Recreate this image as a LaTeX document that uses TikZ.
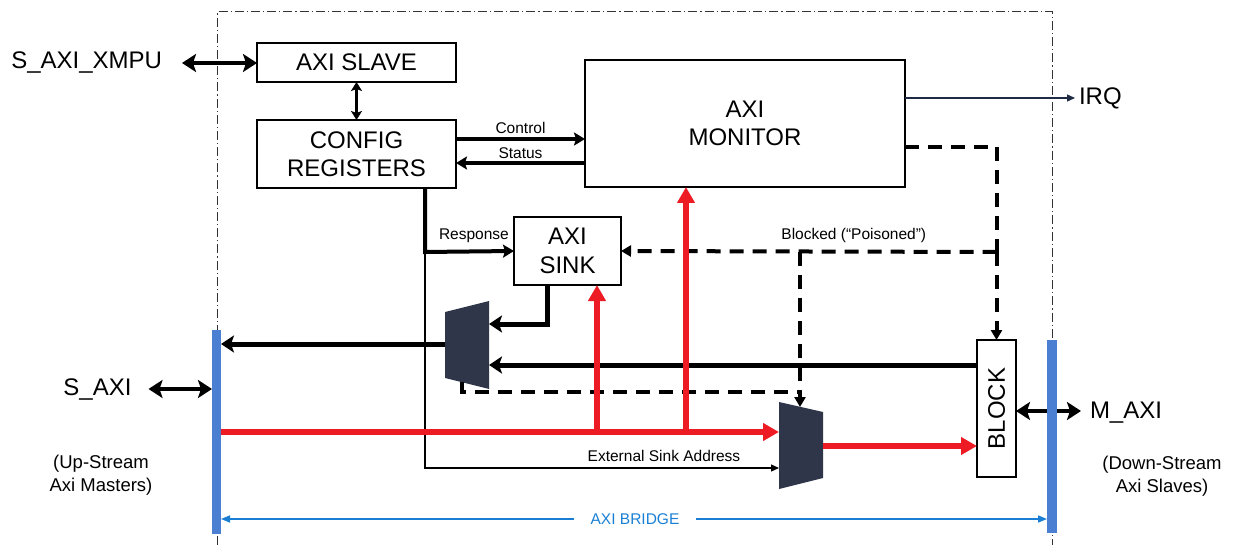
\documentclass[tikz,border=0pt]{standalone}
\usepackage{fontspec}
\setmainfont{Liberation Sans}
\usetikzlibrary{arrows.meta,calc}
\definecolor{axred}{HTML}{ED1C24}
\definecolor{muxc}{HTML}{30364A}
\definecolor{barblue}{HTML}{4A7FD2}
\definecolor{brblue}{HTML}{1A7FD4}
\definecolor{irqc}{HTML}{1F2A44}
\tikzset{
  boxnode/.style={draw, line width=1.3pt, inner sep=0pt, outer sep=0pt, align=center,
    font=\fontsize{24}{28.5}\selectfont},
  biglbl/.style={inner sep=0pt, outer sep=0pt, font=\fontsize{24}{28}\selectfont},
  midlbl/.style={inner sep=0pt, outer sep=0pt, align=center, font=\fontsize{18.5}{23}\selectfont},
  smalllbl/.style={inner sep=0pt, outer sep=0pt, font=\fontsize{15.5}{18}\selectfont},
  barnode/.style={fill=barblue, inner sep=0pt, outer sep=0pt},
  thkarrow/.style={line width=5pt, -{Stealth[length=13pt,width=17pt,inset=3pt]}},
  medarrow/.style={line width=4pt, -{Stealth[length=11pt,width=13pt,inset=2pt]}},
  dblarrow/.style={line width=4.5pt, {Stealth[length=14pt,width=18pt,inset=3pt]}-{Stealth[length=14pt,width=18pt,inset=3pt]}},
  smalldbl/.style={line width=3pt, {Stealth[length=9pt,width=11pt,inset=2pt]}-{Stealth[length=9pt,width=11pt,inset=2pt]}},
  redarrow/.style={axred, line width=5.5pt, -{Triangle[length=16pt,width=17pt]}},
  redline/.style={axred, line width=5.5pt},
  dshline/.style={line width=4pt, dash pattern=on 14pt off 9pt},
  dsharrow/.style={line width=4pt, dash pattern=on 14pt off 9pt, -{Triangle[length=10pt,width=11pt]}},
  thinarrow/.style={line width=1.2pt, -{Triangle[length=8pt,width=7pt]}},
  framestyle/.style={line width=1pt, black!80, dash pattern=on 9pt off 3pt on 1.2pt off 3pt},
  brarrow/.style={brblue, line width=1.5pt, -{Triangle[length=9pt,width=7pt]}}
}
\begin{document}
\begin{tikzpicture}[x=1pt,y=-1pt]
\useasboundingbox (0,0) rectangle (1239,545);

% frame
\draw[framestyle] (217,545) -- (217,12) -- (1052,12) -- (1052,545);

% boxes
\node[boxnode, minimum width=199pt, minimum height=39pt] (slave) at (356.5,62.5) {AXI SLAVE};
\node[boxnode, minimum width=199pt, minimum height=68pt] (config) at (356.5,154) {CONFIG\\REGISTERS};
\node[boxnode, minimum width=320pt, minimum height=127pt] (monitor) at (745,123.5) {AXI\\MONITOR};
\node[boxnode, minimum width=107pt, minimum height=68pt] (sink) at (567.5,251) {AXI\\SINK};
\node[boxnode, minimum width=39pt, minimum height=137pt] (block) at (996.5,408.5) {};
\node[biglbl, rotate=90] (blocktext) at (block.center) {BLOCK};

% bars
\node[barnode, minimum width=9pt, minimum height=204pt] (lbar) at (216.5,432) {};
\node[barnode, minimum width=10pt, minimum height=193pt] (rbar) at (1052,436.5) {};

% external labels
\node[biglbl, anchor=east] (xmpu) at (162,63) {S\_AXI\_XMPU};
\node[biglbl, anchor=west] (irq) at (1079,98) {IRQ};
\node[biglbl] (saxi) at (97.5,390) {S\_AXI};
\node[biglbl] (maxi) at (1126,413) {M\_AXI};
\node[midlbl] (up) at (101,475) {(Up-Stream\\Axi Masters)};
\node[midlbl] (down) at (1162,476) {(Down-Stream\\Axi Slaves)};

% muxes
\fill[muxc] (445,312) -- (489,301) -- (489,389) -- (445,378) -- cycle;
\fill[muxc] (779,402) -- (823,412) -- (823,478) -- (779,489) -- cycle;
\coordinate (m1out) at (445,344);
\coordinate (m1inA) at (489,324);
\coordinate (m1inB) at (489,365);
\coordinate (m1sel) at (462,382);
\coordinate (m2inA) at (779,432);
\coordinate (m2inB) at (779,468);
\coordinate (m2sel) at (800,407);
\coordinate (m2out) at (823,446);

% junctions
\coordinate (rj) at (425,252);
\coordinate (rv1) at (597,432);
\coordinate (rv2) at (686,432);
\coordinate (bj) at (996.5,252);
\coordinate (dj) at (800,252);
\coordinate (dj2) at (800,392);

% slave / config
\draw[dblarrow, shorten <=20pt] (xmpu.east) -- (xmpu.east -| slave.west);
\draw[smalldbl] (slave.south) -- (config.north);

% control / status
\draw[medarrow] (config.east |- 0,139) -- (monitor.west |- 0,139)
  node[smalllbl, midway, above=5pt] (ctl) {Control};
\draw[medarrow] (monitor.west |- 0,163) -- (config.east |- 0,163)
  node[smalllbl, midway, above=4pt] (sts) {Status};

% IRQ
\draw[irqc, line width=1.3pt, -{Triangle[length=8pt,width=7pt]}, shorten >=4pt] (monitor.east |- irq.west) -- (irq.west);

% response
\draw[medarrow] (config.south -| rj) -- (rj) -- (sink.west)
  node[smalllbl, pos=0.55, above=9pt] (resp) {Response};
\draw[thinarrow] (rj) -- (rj |- m2inB) -- (m2inB)
  node[smalllbl, pos=0.675, above=6pt] (ext) {External Sink Address};

% sink to mux1
\draw[thkarrow] (sink.south -| 547,0) |- (m1inA);
% block to mux1
\draw[thkarrow] (block.west |- m1inB) -- (m1inB);
% mux1 to left bar
\draw[thkarrow] (m1out) -- (m1out -| lbar.east);

% dashed
\draw[dshline] (monitor.east |- 0,147) -| (bj);
\draw[dsharrow] (bj) -- (block.north);
\draw[dsharrow] (bj) -- (sink.east)
  node[smalllbl, pos=0.38, above=9pt] (blk) {Blocked (“Poisoned”)};
\draw[dsharrow] (dj) -- (m2sel);
\draw[dshline] (m1sel) |- (dj2);

% red
\draw[redarrow] (lbar.east |- m2inA) -- (m2inA);
\draw[redarrow] (rv1) -- (sink.south -| rv1);
\draw[redarrow] (rv2) -- (monitor.south -| rv2);
\draw[redarrow] (m2out) -- (block.west |- m2out);

% block to M_AXI
\draw[dblarrow, shorten >=9pt] (block.east |- 0,411) -- (maxi.west |- 0,411);
\node[barnode, minimum width=10pt, minimum height=193pt] at (rbar.center) {};
\draw[dblarrow, shorten <=17pt] (saxi.east |- 0,389) -- (lbar.west |- 0,389);

% bridge
\node[smalllbl, text=brblue] (bridge) at (635,519) {AXI BRIDGE};
\draw[brarrow, shorten <=17pt] (bridge.west) -- (bridge.west -| lbar.east);
\draw[brarrow, shorten <=17pt] (bridge.east) -- (bridge.east -| rbar.west);
\end{tikzpicture}
\end{document}
